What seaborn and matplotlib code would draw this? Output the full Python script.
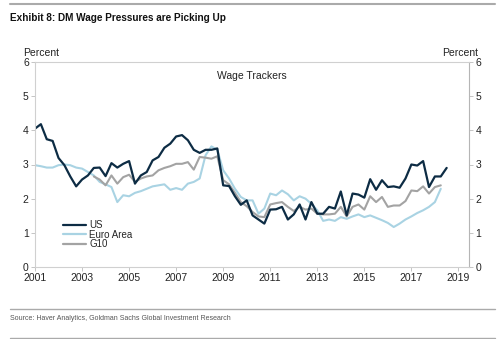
import numpy as np
import pandas as pd
import matplotlib
matplotlib.use("Agg")
import matplotlib.pyplot as plt
import seaborn as sns
from matplotlib.lines import Line2D

# ---- data (quarterly) ----
us_start = "2001-01-01"
us = [4.05, 4.18, 3.74, 3.69,
      3.19, 2.98, 2.65, 2.36,
      2.56, 2.68, 2.90, 2.91,
      2.66, 3.04, 2.91, 3.02,
      3.10, 2.44, 2.68, 2.78,
      3.12, 3.22, 3.49, 3.61,
      3.82, 3.86, 3.71, 3.43,
      3.34, 3.43, 3.43, 3.47,
      2.39, 2.37, 2.07, 1.82,
      1.95, 1.51, 1.39, 1.27,
      1.68, 1.69, 1.76, 1.39,
      1.54, 1.83, 1.39, 1.90,
      1.56, 1.56, 1.76, 1.71,
      2.21, 1.51, 2.15, 2.12,
      2.03, 2.57, 2.26, 2.54,
      2.34, 2.36, 2.32, 2.59,
      3.00, 2.97, 3.10, 2.34,
      2.65, 2.65, 2.90]

euro_start = "2001-01-01"
euro = [2.98, 2.95, 2.91, 2.91,
        2.98, 3.00, 2.98, 2.91,
        2.88, 2.78, 2.68, 2.49,
        2.42, 2.34, 1.90, 2.10,
        2.07, 2.17, 2.22, 2.29,
        2.36, 2.39, 2.42, 2.26,
        2.31, 2.26, 2.44, 2.49,
        2.59, 3.27, 3.53, 3.43,
        2.83, 2.59, 2.29, 2.05,
        1.95, 1.95, 1.56, 1.71,
        2.15, 2.10, 2.24, 2.13,
        1.95, 2.07, 2.00, 1.85,
        1.66, 1.35, 1.39, 1.35,
        1.46, 1.41, 1.48, 1.54,
        1.46, 1.51, 1.44, 1.37,
        1.29, 1.17, 1.27, 1.39,
        1.48, 1.58, 1.66, 1.76,
        1.90, 2.29]

g10_start = "2003-07-01"
g10 = [2.65, 2.56,
       2.39, 2.68, 2.44, 2.63,
       2.70, 2.49, 2.59, 2.65,
       2.68, 2.83, 2.90, 2.95,
       3.02, 3.02, 3.07, 2.85,
       3.22, 3.20, 3.17, 3.24,
       2.54, 2.42, 2.17, 1.90,
       1.78, 1.61, 1.48, 1.46,
       1.83, 1.87, 1.90, 1.76,
       1.64, 1.76, 1.68, 1.71,
       1.56, 1.54, 1.54, 1.56,
       1.76, 1.48, 1.76, 1.83,
       1.68, 2.07, 1.90, 2.05,
       1.76, 1.80, 1.80, 1.93,
       2.24, 2.22, 2.36, 2.15,
       2.34, 2.39]

series_names = ["US", "Euro Area", "G10"]
series_colors = ["#0d2c44", "#a9d3e3", "#a3a3a3"]
x_ticks = list(range(2001, 2020, 2))
y_ticks = [0, 1, 2, 3, 4, 5, 6]


def to_frame(name, start, vals):
    d = pd.date_range(start, periods=len(vals), freq="QS")
    yr = d.year + (d.month - 1) / 12.0
    return pd.DataFrame({"year": yr, "value": vals, "series": name})


df = pd.concat([to_frame("US", us_start, us),
                to_frame("Euro Area", euro_start, euro),
                to_frame("G10", g10_start, g10)], ignore_index=True)

sns.set_style("white")
plt.rcParams["font.family"] = ["Liberation Sans", "DejaVu Sans"]

fig = plt.figure(figsize=(5.0, 3.39), dpi=100)
W, H = 500, 339
L, R, T, B = 35, 469, 62, 267
ax = fig.add_axes([L / W, 1 - B / H, (R - L) / W, (B - T) / H])

# draw order: G10 and Euro beneath US
order = ["Euro Area", "G10", "US"]
pal = dict(zip(series_names, series_colors))
for name in order:
    sns.lineplot(data=df[df.series == name], x="year", y="value",
                 color=pal[name], lw=1.6 if name == "US" else 1.5,
                 ax=ax, legend=False)

ax.set_xlim(2001, 2019.45)
ax.set_ylim(0, 6)
ax.set_xticks(x_ticks)
ax.set_xticklabels([str(t) for t in x_ticks], fontsize=7.5)
ax.set_yticks(y_ticks)
ax.set_yticklabels([str(t) for t in y_ticks], fontsize=7.5)
ax.set_xlabel("")
ax.set_ylabel("")
ax.tick_params(axis="both", length=3, width=0.6, color="#bbbbbb",
               colors="#222222", pad=1.5)
ax.tick_params(axis="y", left=True, right=True, labelleft=True,
               labelright=True, direction="out")
ax.tick_params(axis="x", bottom=True, direction="out")
for side in ["left", "top", "bottom"]:
    ax.spines[side].set_color("#d0d0d0")
    ax.spines[side].set_linewidth(0.8)
ax.spines["right"].set_color("#b5b5b5")
ax.spines["right"].set_linewidth(0.8)

ax.text(0.5, 0.955, "Wage Trackers", transform=ax.transAxes,
        ha="center", va="top", fontsize=7.5, color="#222222")

handles = [Line2D([], [], color=c, lw=1.6) for c in series_colors]
leg = ax.legend(handles, series_names, loc="lower left",
                bbox_to_anchor=((58 - L) / (R - L), (B - 254) / (B - T)),
                frameon=False, fontsize=7, handlelength=2.4,
                handletextpad=0.3, labelspacing=-0.05, borderpad=0)

fig.text(23 / W, 1 - 53 / H, "Percent", fontsize=7.5, ha="left",
         va="center", color="#222222")
fig.text(478 / W, 1 - 53 / H, "Percent", fontsize=7.5, ha="right",
         va="center", color="#222222")

narrow = ["Liberation Sans Narrow", "Liberation Sans", "DejaVu Sans"]
fig.text(10 / W, 1 - 18 / H, "Exhibit 8: DM Wage Pressures are Picking Up",
         fontsize=7.2, fontweight="bold", family=narrow, ha="left",
         va="center", color="#111111")
fig.text(10 / W, 1 - 319 / H,
         "Source: Haver Analytics, Goldman Sachs Global Investment Research",
         fontsize=5.0, family=narrow, ha="left", va="center",
         color="#555555")

for yy, lw in [(4, 1.5), (309, 1.0), (338, 1.0)]:
    fig.add_artist(Line2D([10 / W, 495 / W], [1 - yy / H, 1 - yy / H],
                          color="#aaaaaa", lw=lw, transform=fig.transFigure))

fig.savefig("out.png", dpi=100, facecolor="white")
